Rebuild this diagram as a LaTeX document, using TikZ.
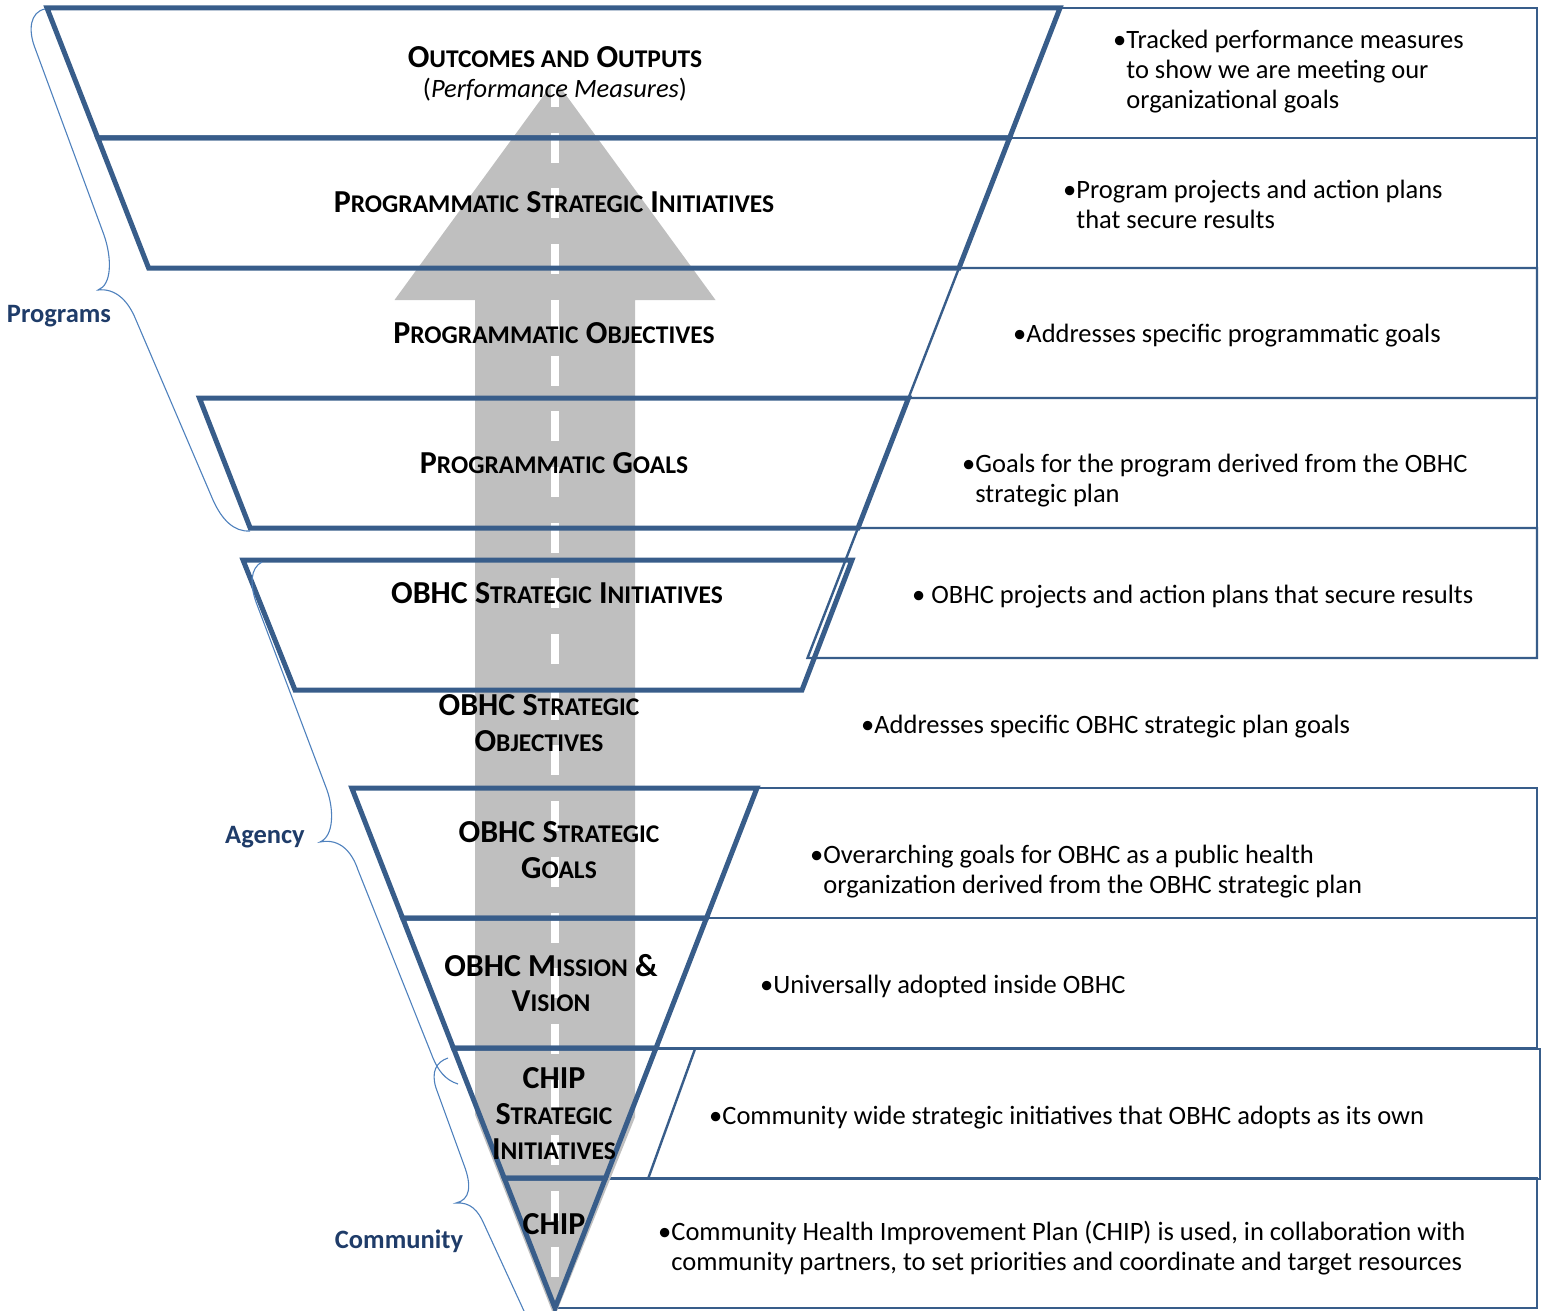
\documentclass[tikz,border=0pt]{standalone}
\usepackage{fontspec}
\setmainfont{Carlito}
\definecolor{fblue}{RGB}{56,93,138}
\definecolor{bblue}{RGB}{79,129,189}
\definecolor{lblue}{RGB}{31,60,105}
\definecolor{agray}{RGB}{191,191,191}
\newcommand\smc[1]{{\fontsize{25.5}{35.5}\selectfont #1}}
\tikzset{
  band/.style={draw=fblue, line width=5pt, line join=miter},
  boxline/.style={draw=fblue, line width=2.4pt, line join=miter},
  bracel/.style={draw=bblue, line width=1.1pt},
  ttl/.style={font=\bfseries\fontsize{32}{35.5}\selectfont, align=center, inner sep=0pt},
  desc/.style={font=\fontsize{26.5}{30}\selectfont, anchor=west, inner sep=0pt},
  lbl/.style={font=\bfseries\fontsize{26.5}{30}\selectfont, text=lblue, inner sep=0pt},
}
\begin{document}
\begin{tikzpicture}[x=1pt,y=-1pt]
\useasboundingbox (0,0) rectangle (1543,1311);
% right boxes
\draw[boxline] (1060,8) -- (1537,8) -- (1537,138) -- (1009.5,138);
\draw[boxline] (1009.5,138) -- (1537,138) -- (1537,268) -- (959,268);
\draw[boxline] (959,268) -- (1537,268) -- (1537,398) -- (908.5,398) -- cycle;
\draw[boxline] (908.5,398) -- (1537,398) -- (1537,528) -- (858,528);
\draw[boxline] (858,528) -- (1537,528) -- (1537,658) -- (807.5,658) -- cycle;
\draw[boxline] (757,788) -- (1537,788) -- (1537,918) -- (706.5,918);
\draw[boxline] (706.5,918) -- (1537,918) -- (1537,1048) -- (656,1048);
\draw[boxline] (656,1049) -- (1540,1049) -- (1540,1179) -- (605.5,1179);
\draw[boxline] (695,1049) -- (648,1179);
\draw[boxline] (605.5,1178) -- (1537,1178) -- (1537,1308) -- (555,1308);
% arrow
\begin{scope}
\clip (38,0) -- (1085,0) -- (557,1311) -- (552,1311) -- cycle;
\fill[agray] (555,80) -- (715.5,300) -- (635,300) -- (635,1311) -- (475,1311) -- (475,300) -- (394.5,300) -- cycle;
\coordinate (dtop) at (555,77);
\coordinate (dbot) at (555,1300);
\draw[white, line width=8pt, dash pattern=on 30pt off 25.7pt] (dtop) -- (dbot);
\end{scope}
% funnel bands
\draw[band] (47,8) -- (1060,8) -- (1009.5,138) -- (97.8,138) -- cycle;
\draw[band] (97.8,138) -- (1009.5,138) -- (959,268) -- (148.6,268) -- cycle;
\draw[band] (199.4,398) -- (908.5,398) -- (858,528) -- (250.2,528) -- cycle;
\draw[band] (243,560) -- (852,560) -- (802,690) -- (295,690) -- cycle;
\draw[band] (351.8,788) -- (757,788) -- (706.5,918) -- (402.6,918) -- cycle;
\draw[band] (402.6,918) -- (706.5,918) -- (656,1048) -- (453.4,1048) -- cycle;
\draw[band] (453.4,1048) -- (656,1048) -- (605.5,1178) -- (504.2,1178) -- cycle;
\draw[band] (504.2,1178) -- (605.5,1178) -- (555,1308) -- cycle;
% braces
\draw[bracel] (45,9) .. controls (30,12) and (28,30) .. (35,48) -- (104,235)
  .. controls (112,258) and (112,285) .. (98,290)
  .. controls (115,288) and (128,300) .. (136,320) -- (213,500)
  .. controls (222,520) and (234,532) .. (250,531);
\draw[bracel] (262,562) .. controls (250,568) and (250,585) .. (256,602) -- (327,790)
  .. controls (334,810) and (334,836) .. (320,842)
  .. controls (340,838) and (352,852) .. (358,870) -- (433,1058)
  .. controls (438,1070) and (445,1080) .. (458,1084);
\draw[bracel] (448,1058) .. controls (436,1062) and (431,1072) .. (436,1088) -- (464,1165)
  .. controls (472,1186) and (470,1200) .. (456,1203)
  .. controls (470,1202) and (478,1210) .. (484,1224) -- (524,1311);
% labels
\node[lbl] (lprog) at (59,316) {Programs};
\node[lbl] (lagen) at (265,837) {Agency};
\node[lbl] (lcomm) at (399,1241) {Community};
% titles
\node[ttl] (t1) at (555,57) {O\smc{UTCOMES AND} O\smc{UTPUTS}};
\node[inner sep=0pt, font=\fontsize{26.5}{30}\selectfont] (t1b) at (555,90) {(\textit{Performance Measures})};
\node[ttl] (t2) at (554,202) {P\smc{ROGRAMMATIC} S\smc{TRATEGIC} I\smc{NITIATIVES}};
\node[ttl] (t3) at (554,333) {P\smc{ROGRAMMATIC} O\smc{BJECTIVES}};
\node[ttl] (t4) at (554,463) {P\smc{ROGRAMMATIC} G\smc{OALS}};
\node[ttl] (t5) at (557,593) {OBHC S\smc{TRATEGIC} I\smc{NITIATIVES}};
\node[ttl] (t6) at (539,723) {OBHC S\smc{TRATEGIC}\\O\smc{BJECTIVES}};
\node[ttl] (t7) at (559,850) {OBHC S\smc{TRATEGIC}\\G\smc{OALS}};
\node[ttl] (t8) at (551,983) {OBHC M\smc{ISSION} \&\\V\smc{ISION}};
\node[ttl] (t9) at (554,1114) {CHIP\\S\smc{TRATEGIC}\\I\smc{NITIATIVES}};
\node[ttl] (t10) at (554,1224) {CHIP};
% descriptions
\node[desc] (d1) at (1113,73) {\begin{tabular}{@{}l@{}l@{}}•&Tracked performance measures\\&to show we are meeting our\\&organizational goals\end{tabular}};
\node[desc] (d2) at (1063,207.5) {\begin{tabular}{@{}l@{}l@{}}•&Program projects and action plans\\&that secure results\end{tabular}};
\node[desc] (d3) at (1013,336) {\begin{tabular}{@{}l@{}l@{}}•&Addresses specific programmatic goals\end{tabular}};
\node[desc] (d4) at (962,481.5) {\begin{tabular}{@{}l@{}l@{}}•&Goals for the program derived from the OBHC\\&strategic plan\end{tabular}};
\node[desc] (d5) at (912,597) {\begin{tabular}{@{}l@{}}• OBHC projects and action plans that secure results\end{tabular}};
\node[desc] (d6) at (861,727) {\begin{tabular}{@{}l@{}l@{}}•&Addresses specific OBHC strategic plan goals\end{tabular}};
\node[desc] (d7) at (810,872) {\begin{tabular}{@{}l@{}l@{}}•&Overarching goals for OBHC as a public health\\&organization derived from the OBHC strategic plan\end{tabular}};
\node[desc] (d8) at (760,987) {\begin{tabular}{@{}l@{}l@{}}•&Universally adopted inside OBHC\end{tabular}};
\node[desc] (d9) at (709,1118) {\begin{tabular}{@{}l@{}l@{}}•&Community wide strategic initiatives that OBHC adopts as its own\end{tabular}};
\node[desc] (d10) at (658,1249) {\begin{tabular}{@{}l@{}l@{}}•&Community Health Improvement Plan (CHIP) is used, in collaboration with\\&community partners, to set priorities and coordinate and target resources\end{tabular}};
\end{tikzpicture}
\end{document}
